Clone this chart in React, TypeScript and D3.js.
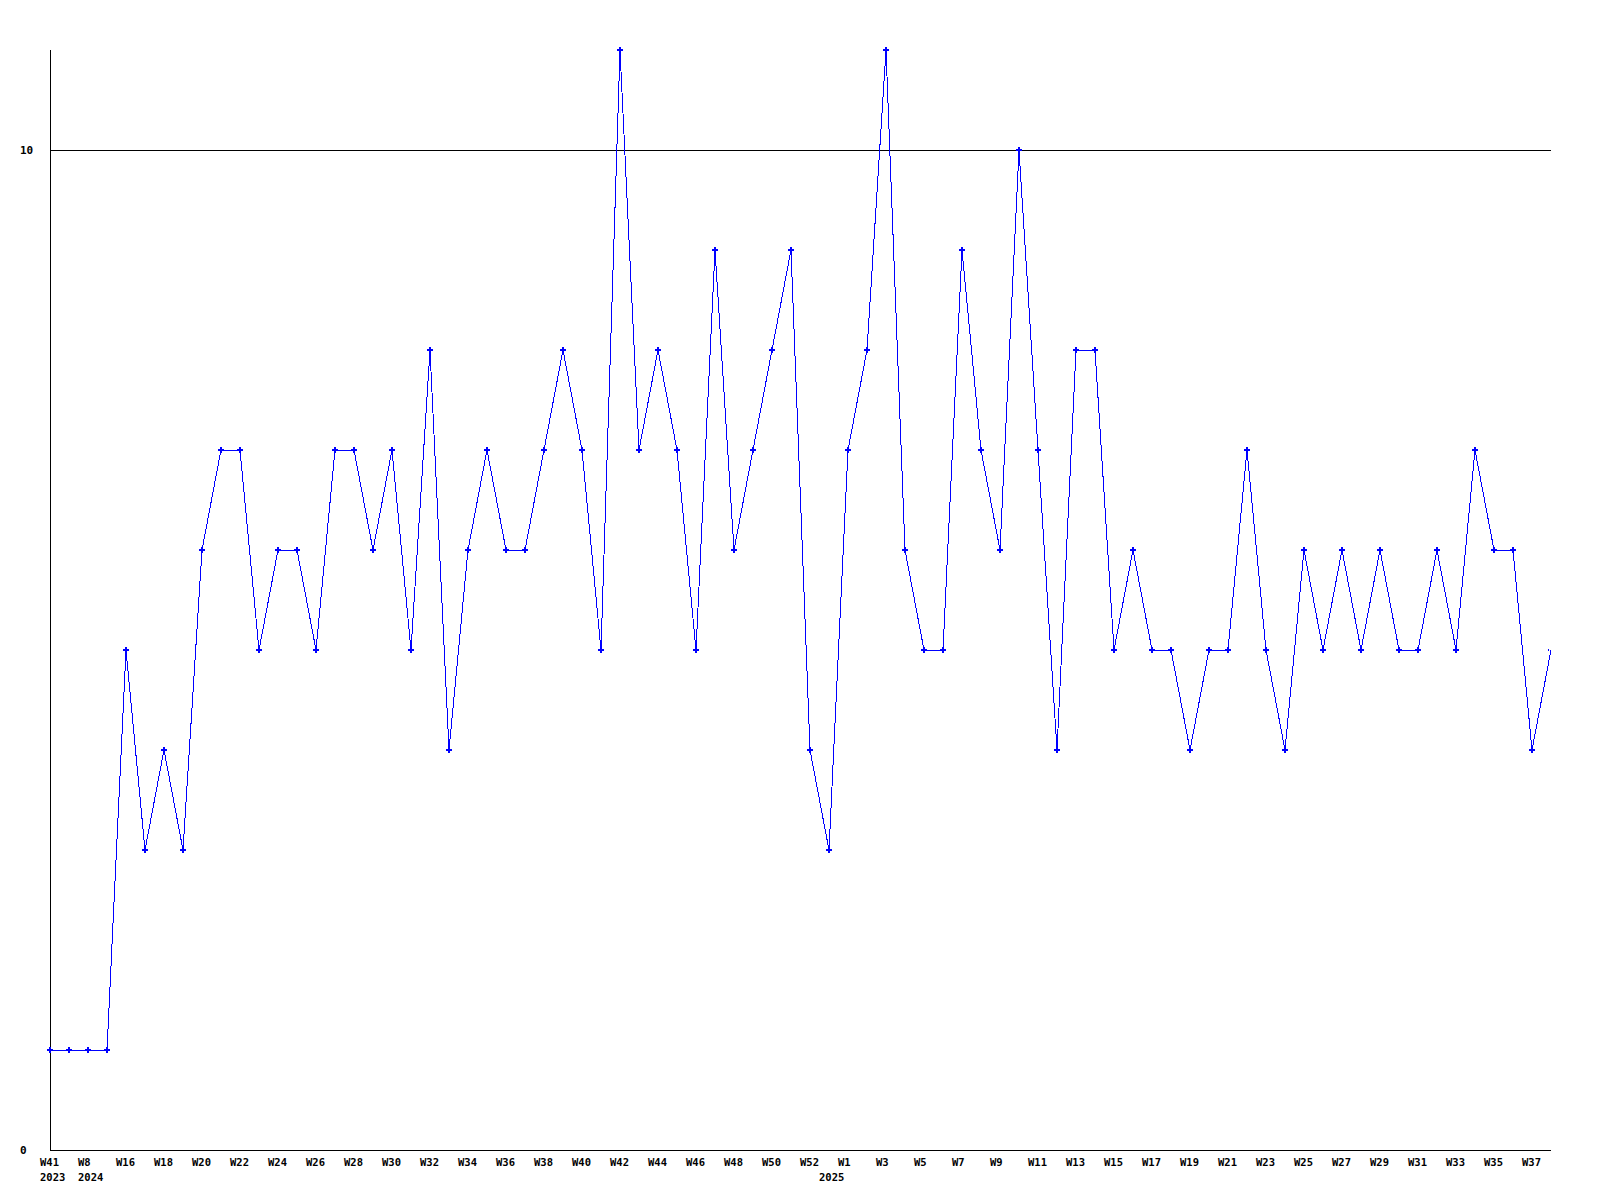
import React from 'react';
import * as d3 from 'd3';

// week labels, one per point (odd ones are not printed on the axis)
const weeks = [
  'W41', 'W47', 'W8', 'W12', 'W16', 'W17', 'W18', 'W19', 'W20', 'W21',
  'W22', 'W23', 'W24', 'W25', 'W26', 'W27', 'W28', 'W29', 'W30', 'W31',
  'W32', 'W33', 'W34', 'W35', 'W36', 'W37', 'W38', 'W39', 'W40', 'W41',
  'W42', 'W43', 'W44', 'W45', 'W46', 'W47', 'W48', 'W49', 'W50', 'W51',
  'W52', 'W0', 'W1', 'W2', 'W3', 'W4', 'W5', 'W6', 'W7', 'W8',
  'W9', 'W10', 'W11', 'W12', 'W13', 'W14', 'W15', 'W16', 'W17', 'W18',
  'W19', 'W20', 'W21', 'W22', 'W23', 'W24', 'W25', 'W26', 'W27', 'W28',
  'W29', 'W30', 'W31', 'W32', 'W33', 'W34', 'W35', 'W36', 'W37', 'W38',
];

const years = [
  2023, 2023, 2024, 2024, 2024, 2024, 2024, 2024, 2024, 2024,
  2024, 2024, 2024, 2024, 2024, 2024, 2024, 2024, 2024, 2024,
  2024, 2024, 2024, 2024, 2024, 2024, 2024, 2024, 2024, 2024,
  2024, 2024, 2024, 2024, 2024, 2024, 2024, 2024, 2024, 2024,
  2024, 2025, 2025, 2025, 2025, 2025, 2025, 2025, 2025, 2025,
  2025, 2025, 2025, 2025, 2025, 2025, 2025, 2025, 2025, 2025,
  2025, 2025, 2025, 2025, 2025, 2025, 2025, 2025, 2025, 2025,
  2025, 2025, 2025, 2025, 2025, 2025, 2025, 2025, 2025, 2025,
];

const counts = [
  1, 1, 1, 1, 5, 3, 4, 3, 6, 7,
  7, 5, 6, 6, 5, 7, 7, 6, 7, 5,
  8, 4, 6, 7, 6, 6, 7, 8, 7, 5,
  11, 7, 8, 7, 5, 9, 6, 7, 8, 9,
  4, 3, 7, 8, 11, 6, 5, 5, 9, 7,
  6, 10, 7, 4, 8, 8, 5, 6, 5, 5,
  4, 5, 5, 7, 5, 4, 6, 5, 6, 5,
  6, 5, 5, 6, 5, 7, 6, 6, 4, 5,
];

const yTicks = [0, 10];

const font = '"DejaVu Sans Mono", monospace';

export default function App() {
  const keys = weeks.map((w, i) => `${years[i]}-${w}-${i}`);
  const data = keys.map((k, i) => ({ key: k, week: weeks[i], year: years[i], value: counts[i], i }));

  const x = d3.scalePoint<string>().domain(keys).range([50, 1551]);
  const y = d3.scaleLinear().domain([0, 11]).range([1150, 50]);

  const line = d3.line<any>()
    .x(d => x(d.key)!)
    .y(d => y(d.value));

  const cross = d3.symbol().type(d3.symbolCross).size(20)();

  return (
    <svg width={1600} height={1200} style={{ position: 'absolute', left: 0, top: 0, background: '#fff' }}>
      <defs>
        <clipPath id="plot">
          <rect x={46} y={40} width={1503} height={1115} />
        </clipPath>
      </defs>

      {/* grid at 10 and axes */}
      {yTicks.filter(t => t > 0).map(t => (
        <line key={t} x1={50} x2={1551} y1={y(t)} y2={y(t)} stroke="#000" shapeRendering="crispEdges" />
      ))}
      <line x1={50} x2={50} y1={y(11)} y2={y(0)} stroke="#000" shapeRendering="crispEdges" />
      <line x1={50} x2={1551} y1={y(0)} y2={y(0)} stroke="#000" shapeRendering="crispEdges" />

      {yTicks.map(t => (
        <text key={t} x={20} y={y(t) + 4} fontFamily={font} fontWeight="bold" fontSize={11} fill="#000">{t}</text>
      ))}

      <path d={line(data) || ''} fill="none" stroke="#0000ff" strokeWidth={1} shapeRendering="crispEdges" />
      <g clipPath="url(#plot)">
        {data.map(d => (
          <path key={d.key} d={cross || ''} transform={`translate(${x(d.key)},${y(d.value)})`} fill="#0000ff" shapeRendering="crispEdges" />
        ))}
      </g>

      {/* week labels every other point, year under first week of each year */}
      {data.map(d => (
        <g key={d.key} fontFamily={font} fontWeight="bold" fontSize={10.5} fill="#000">
          {d.i % 2 === 0 && <text x={x(d.key)! - 10} y={1166}>{d.week}</text>}
          {(d.i === 0 || years[d.i - 1] !== d.year) && <text x={x(d.key)! - 10} y={1181}>{d.year}</text>}
        </g>
      ))}
    </svg>
  );
}
